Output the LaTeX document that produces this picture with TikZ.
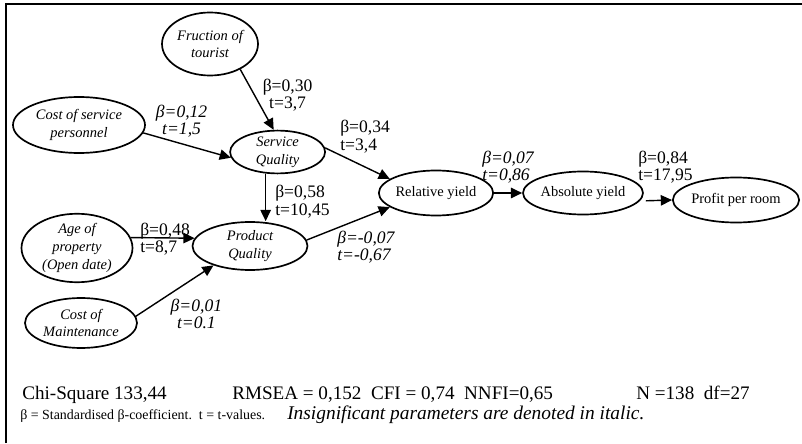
\documentclass[tikz,border=0pt]{standalone}
\usepackage{fontspec}
\setmainfont{Liberation Serif}
\usepackage{tikz}
\usetikzlibrary{arrows.meta,positioning,shapes.geometric}
\tikzset{
  var/.style={ellipse,draw=black,line width=1.2pt,inner sep=0pt,align=center,
              font=\fontsize{10.3}{12.5}\selectfont},
  lat/.style={var,font=\fontsize{10.3}{12.5}\selectfont\itshape},
  coef/.style={inner sep=0pt,align=left,font=\fontsize{12.5}{12.5}\selectfont},
  ncoef/.style={coef,font=\fontsize{12.5}{12.5}\selectfont\itshape},
  reg/.style={-{Triangle[length=2.8mm,width=2.6mm]},line width=1pt},
  fitline/.style={inner sep=0pt,font=\fontsize{13.6}{14}\selectfont},
}

\begin{document}
\begin{tikzpicture}
  \useasboundingbox (0,0) rectangle (20.05,11.075);
  % frame
  \draw[line width=1.4pt] (0.15,0) -- (0.15,10.975) -- (20.05,10.975);

  % drivers and quality constructs
  \node[lat,minimum width=2.4cm,minimum height=1.575cm] (frac) at (5.25,9.975) {Fruction of\\tourist};
  \node[lat,minimum width=3.3cm,minimum height=1.4cm] (csp) at (1.975,7.95) {Cost of service\\personnel};
  \node[lat,minimum width=2.375cm,minimum height=1.025cm] (sq) at (6.94,7.275) {Service\\Quality};
  \node[lat,minimum width=2.875cm,minimum height=1.2cm] (pq) at (6.25,4.925) {Product\\Quality};
  \node[lat,minimum width=2.775cm,minimum height=1.425cm] (age) at (1.925,4.875) {Age of\\property\\(Open date)};
  \node[lat,minimum width=2.8cm,minimum height=1.25cm] (cm) at (2.025,3.0) {Cost of\\Maintenance};

  % yield chain
  \node[var,minimum width=2.7cm,minimum height=1.125cm] (ry) at (10.9,6.25) {Relative yield};
  \node[var,minimum width=2.75cm,minimum height=1.075cm] (ay) at (14.575,6.25) {Absolute yield};
  \node[var,minimum width=2.7cm,minimum height=1.125cm] (ppr) at (18.4,6.075) {Profit per room};

  % paths
  \draw[reg] (frac.-40) -- (sq.100);
  \draw[reg] (csp.-7) -- (sq.187);
  \draw[reg] (sq.5) -- (ry.163);
  \draw[reg] (sq.241) -- (sq.241 |- pq.north);
  \draw[reg] (age.11) -- (pq.172);
  \draw[reg] (cm.7) -- (pq.208);
  \draw[reg] (pq.6) -- (ry.197);
  \draw[reg] (ry.east) -- (ay.west);
  \draw[reg,shorten <=1.5mm] (ay.-8) -- (ppr.west);

  % coefficients
  \node[coef,align=center] (b30) at (7.19,8.7) {β=0,30\\t=3,7};
  \node[ncoef,align=center] (b12) at (4.54,8.05) {β=0,12\\t=1,5};
  \node[coef,anchor=west] (b34) at (8.5,7.66) {β=0,34\\t=3,4};
  \node[coef,anchor=west] (b58) at (6.875,6.04) {β=0,58\\t=10,45};
  \node[coef,anchor=west] (b48) at (3.5,5.1) {β=0,48\\t=8,7};
  \node[ncoef,anchor=west] (bm07) at (8.425,4.9) {β=-0,07\\t=-0,67};
  \node[ncoef,align=center] (b01) at (4.91,3.225) {β=0,01\\t=0.1};
  \node[ncoef,anchor=west] (b07) at (12.05,6.9) {β=0,07\\t=0,86};
  \node[coef,anchor=west] (b84) at (15.95,6.9) {β=0,84\\t=17,95};

  % fit statistics
  \node[fitline,anchor=base west] (chi) at (0.55,1.1) {Chi-Square 133,44};
  \node[fitline,anchor=base west] (rmsea) at (5.8,1.1) {RMSEA = 0,152\ \ CFI = 0,74\ \ NNFI=0,65};
  \node[fitline,anchor=base east] (nobs) at (18.75,1.1) {N =138\ \ df=27};
  \node[inner sep=0pt,anchor=base west,font=\fontsize{9.9}{12}\selectfont] (legend) at (0.5,0.6)
    {β = Standardised β-coefficient.\ \ t = t-values.};
  \node[inner sep=0pt,anchor=base west,font=\fontsize{13.8}{14}\selectfont\itshape] (legendit) at (7.175,0.6)
    {Insignificant parameters are denoted in italic.};
\end{tikzpicture}
\end{document}
